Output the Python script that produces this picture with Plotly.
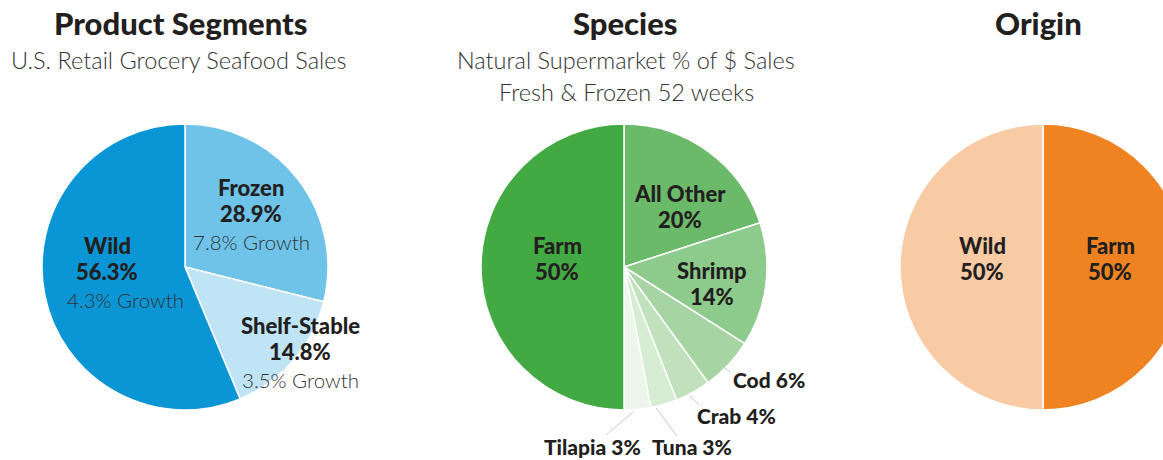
import plotly.graph_objects as go

# figure is slightly wider than the window so the right pie is cut at the edge, as in the reference
W, H = 1190, 460

# ---- data ----
seg_labels = ["Frozen", "Shelf-Stable", "Wild"]
seg_values = [28.9, 14.8, 56.3]
seg_growth = ["7.8% Growth", "3.5% Growth", "4.3% Growth"]
seg_colors = ["#6fc3e9", "#bfe4f6", "#0a95d5"]

sp_labels = ["All Other", "Shrimp", "Cod", "Crab", "Tuna", "Tilapia", "Farm"]
sp_values = [20, 14, 6, 4, 3, 3, 50]
sp_colors = ["#6aba6a", "#8dcb8d", "#a6d5a3", "#bfe1bc", "#d6ecd3", "#edf6eb", "#43a943"]

or_labels = ["Farm", "Wild"]
or_values = [50, 50]
or_colors = ["#f08321", "#f8cba4"]

titles = ["Product Segments", "Species", "Origin"]
subtitles = [["U.S. Retail Grocery Seafood Sales"],
             ["Natural Supermarket % of $ Sales", "Fresh & Frozen 52 weeks"],
             []]

FONT_B = "Lato"
FONT_L = "Lato"
DARK = "#231f20"
R = 143
CY = 267


def px(x):
    return x / W


def py(y):
    return 1 - y / H


def domain(cx):
    return dict(x=[px(cx - R), px(cx + R)], y=[py(CY + R), py(CY - R)])


fig = go.Figure()
for labels, values, colors, cx in [(seg_labels, seg_values, seg_colors, 185),
                                    (sp_labels, sp_values, sp_colors, 624),
                                    (or_labels, or_values, or_colors, 1043)]:
    fig.add_trace(go.Pie(labels=labels, values=values, sort=False, direction="clockwise",
                         rotation=0, textinfo="none", hoverinfo="label+value",
                         marker=dict(colors=colors, line=dict(color="white", width=1.5)),
                         domain=domain(cx), showlegend=False))

anns = []


def ann(x, y, text, size, bold=True, color=DARK):
    anns.append(dict(x=px(x), y=py(y), xref="paper", yref="paper", text=text,
                     showarrow=False, xanchor="center", yanchor="middle",
                     font=dict(family=FONT_B if bold else FONT_L, size=size, color=color,
                               weight=900 if bold else 300)))


# titles
for t, cx in zip(titles, [180, 625, 1038]):
    ann(cx, 23, t, 31)
for subs, cx in zip(subtitles, [179, 626, 1038]):
    for i, s in enumerate(subs):
        ann(cx, 60 + 32 * i, s, 23.5, bold=False, color="#333333")

# product segment labels
seg_pos = [(251, 187), (300, 325), (107, 245)]
for lab, val, gr, (x, y) in zip(seg_labels, seg_values, seg_growth, seg_pos):
    ann(x, y, lab, 22)
    ann(x, y + 26, f"{val}%", 22)
    gx = x + (18 if lab == "Wild" else 0)
    ann(gx, y + 55, gr, 20.5, bold=False, color="#333333")

# species labels
inside_pos = {"All Other": (680, 193), "Shrimp": (712, 270), "Farm": (557, 245)}
for lab, val in zip(sp_labels, sp_values):
    if lab in inside_pos:
        x, y = inside_pos[lab]
        ann(x, y, lab, 22)
        ann(x, y + 26, f"{val}%", 22)
outside_pos = {"Cod": (769, 379), "Crab": (736, 415), "Tuna": (692, 446), "Tilapia": (592, 446)}
for lab, val in zip(sp_labels, sp_values):
    if lab in outside_pos:
        x, y = outside_pos[lab]
        ann(x, y, f"{lab} {val}%", 21)

# origin labels
or_pos = {"Farm": (1110, 245), "Wild": (982, 245)}
for lab, val in zip(or_labels, or_values):
    x, y = or_pos[lab]
    ann(x, y, lab, 22)
    ann(x, y + 26, f"{val}%", 22)

# leader lines
leaders = [((722, 366), (730, 372)), ((690, 396), (699, 405)),
           ((656, 408), (677, 436)), ((633, 412), (606, 435))]
shapes = [dict(type="line", xref="paper", yref="paper", x0=px(a[0]), y0=py(a[1]),
               x1=px(b[0]), y1=py(b[1]), line=dict(color="#c8c8c8", width=1))
          for a, b in leaders]

fig.update_layout(width=W, height=H, margin=dict(l=0, r=0, t=0, b=0),
                  paper_bgcolor="white", plot_bgcolor="white",
                  annotations=anns, shapes=shapes)

fig.write_html("out.html", config={"displayModeBar": False},
               post_script="document.body.style.margin='0';document.body.style.overflow='hidden';"
                           "document.documentElement.style.overflow='hidden';")
